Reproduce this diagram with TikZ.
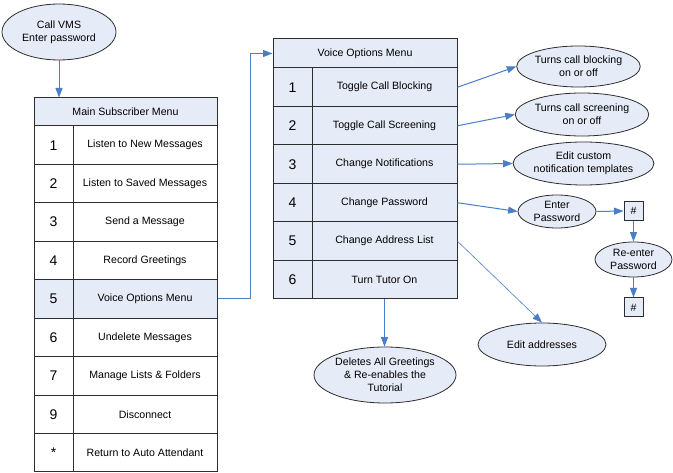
\documentclass[tikz,border=0pt]{standalone}
\usepackage{fontspec}
\setmainfont{Liberation Sans}
\usetikzlibrary{arrows.meta,shapes.geometric}
\definecolor{cellfill}{RGB}{230,236,247}
\definecolor{linkblue}{RGB}{74,126,200}
\definecolor{edgecol}{RGB}{45,45,45}
\tikzset{
  smalltext/.style={font=\fontsize{10.6}{12.8}\selectfont},
  cell/.style={draw=edgecol, line width=1pt, rectangle, inner sep=0pt, smalltext},
  numcell/.style={cell, minimum width=39pt, font=\fontsize{14}{16}\selectfont},
  txtcell/.style={cell},
  oval/.style={ellipse, draw=edgecol, line width=0.8pt, fill=cellfill, inner sep=0pt, align=center, smalltext},
  hashbox/.style={cell, fill=cellfill, minimum width=19pt, minimum height=19pt},
  conn/.style={draw=linkblue, line width=1pt, -{Triangle[length=9.5pt,width=7pt]}},
  thinconn/.style={conn, line width=0.6pt},
}
\begin{document}
\begin{tikzpicture}[x=1pt,y=-1pt]
\useasboundingbox (0,0) rectangle (673,473);
\fill[white] (0,0) rectangle (673,473);

% start ellipse
\node[oval, minimum width=114pt, minimum height=56pt] (start) at (59,32) {Call VMS\\Enter password};

% main subscriber menu
\node[cell, fill=cellfill, minimum width=183pt, minimum height=28pt] (mh) at (125.5,112) {Main Subscriber Menu};
\foreach \num/\txt/\f [count=\i] in {1/Listen to New Messages/white, 2/Listen to Saved Messages/white, 3/Send a Message/white, 4/Record Greetings/white, 5/Voice Options Menu/cellfill, 6/Undelete Messages/white, 7/Manage Lists \& Folders/white, 9/Disconnect/white, */Return to Auto Attendant/white} {
  \pgfmathsetmacro{\yy}{126+38.44*(\i-0.5)}
  \node[numcell, fill=\f, minimum height=38.44pt] (mn\i) at (53.5,\yy) {\num};
  \node[txtcell, fill=\f, minimum width=144pt, minimum height=38.44pt] (mt\i) at (145,\yy) {\txt};
}

% voice options menu
\node[cell, fill=cellfill, minimum width=184pt, minimum height=29pt] (vh) at (365,53.5) {Voice Options Menu};
\foreach \num/\txt [count=\i] in {1/Toggle Call Blocking, 2/Toggle Call Screening, 3/Change Notifications, 4/Change Password, 5/Change Address List, 6/Turn Tutor On} {
  \pgfmathsetmacro{\yy}{68+38.5*(\i-0.5)}
  \node[numcell, fill=cellfill, minimum height=38.5pt] (vn\i) at (292.5,\yy) {\num};
  \node[txtcell, fill=cellfill, minimum width=145pt, minimum height=38.5pt] (vt\i) at (384.5,\yy) {\txt};
}

% outcome ellipses
\node[oval, minimum width=121pt, minimum height=41pt] (e1) at (578.5,66.5) {Turns call blocking\\on or off};
\node[oval, minimum width=128pt, minimum height=43pt] (e2) at (582,114.5) {Turns call screening\\on or off};
\node[oval, minimum width=131pt, minimum height=43pt] (e3) at (583.5,163.5) {Edit custom\\notification templates};
\node[oval, minimum width=78pt, minimum height=33pt] (e4) at (557,211.5) {Enter\\Password};
\node[hashbox] (h1) at (633.5,211) {\#};
\node[oval, minimum width=77pt, minimum height=35pt] (e5) at (633.5,259.5) {Re-enter\\Password};
\node[hashbox] (h2) at (633.5,307.5) {\#};
\node[oval, minimum width=128pt, minimum height=43pt] (e6) at (542,344.5) {Edit addresses};
\node[oval, minimum width=142pt, minimum height=56pt] (e7) at (385,375) {Deletes All Greetings\\\& Re-enables the\\Tutorial};

% connectors
\coordinate (jog) at (250,0);
\draw[conn] (start.south) -- (start.south |- mh.north);
\draw[conn] (mt5.east) -| (jog |- vh.west) -- (vh.west);
\draw[conn] (vt1.east) -- (e1.west);
\draw[conn] (vt2.east) -- (e2.west);
\draw[conn] (vt3.east) -- (e3.west);
\draw[conn] (vt4.east) -- (e4.west);
\draw[conn] (e4.east) -- (h1.west);
\draw[conn] (h1.south) -- (e5.north);
\draw[conn] (e5.south) -- (h2.north);
\draw[thinconn] (vt5.east) -- (e6.north);
\draw[conn] (vt6.south) -- (vt6.south |- e7.north);
\end{tikzpicture}
\end{document}
